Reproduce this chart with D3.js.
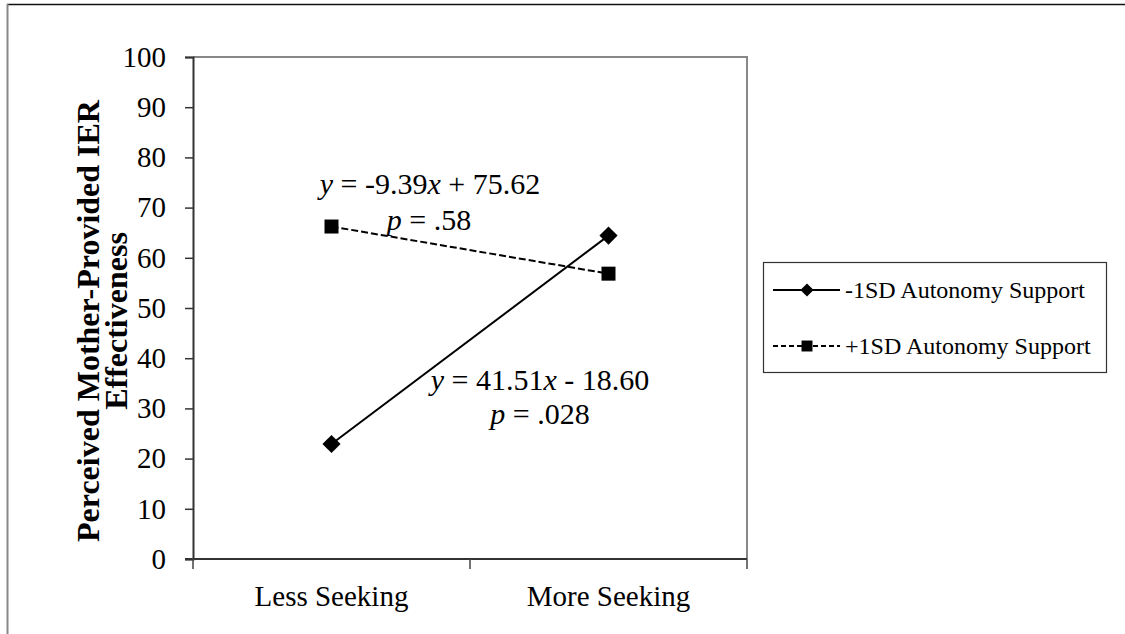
<!DOCTYPE html>
<html>
<head>
<meta charset="utf-8">
<script src="https://cdn.jsdelivr.net/npm/d3@7"></script>
<style>
    body { margin: 0; background: #fff; }
</style>
</head>
<body>
<div id="chart"></div>
<script>
// values
const categories = ['Less Seeking', 'More Seeking'];
const lowSupport = [22.91, 64.42];   // -1SD Autonomy Support
const highSupport = [66.23, 56.84];  // +1SD Autonomy Support
const yTicks = [0, 10, 20, 30, 40, 50, 60, 70, 80, 90, 100];
const seriesNames = ['-1SD Autonomy Support', '+1SD Autonomy Support'];
const yTitle = ['Perceived Mother-Provided IER', 'Effectiveness'];

const serif = '"Liberation Serif", "Times New Roman", serif';

let width = 1125,
    height = 634,
    plot = { left: 193, right: 747, top: 57, bottom: 559 };

let svg = d3.select('#chart').append('svg')
    .attr('width', width)
    .attr('height', height)
    .style('font-family', serif);

// outer frame (top + left edges only visible)
svg.append('line')
    .attr('x1', 7).attr('x2', width).attr('y1', 4.5).attr('y2', 4.5)
    .attr('stroke', '#111').attr('stroke-width', 1.5);
svg.append('line')
    .attr('x1', 7.5).attr('x2', 7.5).attr('y1', 4).attr('y2', height)
    .attr('stroke', '#888').attr('stroke-width', 2);

let x = d3.scaleBand()
    .domain(categories)
    .range([plot.left, plot.right])
    .padding(0);

let y = d3.scaleLinear()
    .domain([0, 100])
    .range([plot.bottom, plot.top]);

// plot area border (top/right grey)
svg.append('path')
    .attr('d', 'M' + plot.left + ',' + plot.top + 'H' + plot.right + 'V' + plot.bottom)
    .attr('fill', 'none')
    .attr('stroke', '#888')
    .attr('stroke-width', 2);

// y axis
let yAxis = svg.append('g')
    .attr('transform', 'translate(' + plot.left + ',0)')
    .call(d3.axisLeft(y).tickValues(yTicks).tickSize(8).tickPadding(19));
yAxis.attr('font-family', null).attr('font-size', null);
yAxis.select('.domain').attr('stroke', '#333').attr('stroke-width', 2);
yAxis.selectAll('.tick line').attr('stroke', '#333').attr('stroke-width', 1.5);
yAxis.selectAll('.tick text')
    .style('font-family', serif)
    .style('font-size', '29px')
    .attr('fill', '#000');

// x axis with ticks at category boundaries
let xg = svg.append('g');
xg.append('line')
    .attr('x1', plot.left - 8).attr('x2', plot.right)
    .attr('y1', plot.bottom).attr('y2', plot.bottom)
    .attr('stroke', '#333').attr('stroke-width', 2);
let bounds = categories.map(function(c) { return x(c); }).concat([x(categories[categories.length - 1]) + x.bandwidth()]);
xg.selectAll('.xtick')
    .data(bounds)
    .enter().append('line')
    .attr('x1', function(d) { return d; })
    .attr('x2', function(d) { return d; })
    .attr('y1', plot.bottom)
    .attr('y2', plot.bottom + 10)
    .attr('stroke', '#444').attr('stroke-width', 1.5);
xg.selectAll('.xlab')
    .data(categories)
    .enter().append('text')
    .attr('x', function(d) { return x(d) + x.bandwidth() / 2; })
    .attr('y', 606)
    .attr('text-anchor', 'middle')
    .style('font-family', serif)
    .style('font-size', '29px')
    .text(function(d) { return d; });

// y title
let yt = svg.append('text')
    .attr('transform', 'translate(99,321) rotate(-90)')
    .attr('text-anchor', 'middle')
    .style('font-family', serif)
    .style('font-size', '32px')
    .style('font-weight', 'bold');
yt.selectAll('tspan')
    .data(yTitle)
    .enter().append('tspan')
    .attr('x', 0)
    .attr('dy', function(d, i) { return i === 0 ? 0 : 28; })
    .text(function(d) { return d; });

let cx = function(d, i) { return x(categories[i]) + x.bandwidth() / 2; };

let line = d3.line()
    .x(function(d, i) { return cx(d, i); })
    .y(function(d) { return y(d); });

// +1SD dashed
svg.append('path')
    .datum(highSupport)
    .attr('d', line)
    .attr('fill', 'none')
    .attr('stroke', '#000')
    .attr('stroke-width', 2)
    .attr('stroke-dasharray', '7,3');

// -1SD solid
svg.append('path')
    .datum(lowSupport)
    .attr('d', line)
    .attr('fill', 'none')
    .attr('stroke', '#000')
    .attr('stroke-width', 2);

let diamond = d3.symbol().type(d3.symbolDiamond2).size(210);
let square = d3.symbol().type(d3.symbolSquare).size(196);

svg.selectAll('.sq')
    .data(highSupport)
    .enter().append('path')
    .attr('d', square)
    .attr('transform', function(d, i) { return 'translate(' + cx(d, i) + ',' + y(d) + ')'; })
    .attr('fill', '#000');

svg.selectAll('.dm')
    .data(lowSupport)
    .enter().append('path')
    .attr('d', diamond)
    .attr('transform', function(d, i) { return 'translate(' + cx(d, i) + ',' + y(d) + ')'; })
    .attr('fill', '#000');

// regression annotations
function annot(parts, ax, ay) {
    let t = svg.append('text')
        .attr('x', ax).attr('y', ay)
        .attr('text-anchor', 'middle')
        .style('font-family', serif)
        .style('font-size', '30px');
    parts.forEach(function(p) {
        t.append('tspan')
            .style('font-style', p[1] ? 'italic' : 'normal')
            .text(p[0]);
    });
}
annot([['y', 1], [' = -9.39', 0], ['x', 1], [' + 75.62', 0]], 430, 194);
annot([['p', 1], [' = .58', 0]], 429, 230);
annot([['y', 1], [' = 41.51', 0], ['x', 1], [' - 18.60', 0]], 540, 390);
annot([['p', 1], [' = .028', 0]], 540, 424);

// legend
let lg = svg.append('g');
lg.append('rect')
    .attr('x', 763.5).attr('y', 262.5)
    .attr('width', 343).attr('height', 110)
    .attr('fill', '#fff')
    .attr('stroke', '#333').attr('stroke-width', 1.2);

let legendRows = [
    { name: seriesNames[0], dash: null, sq: false },
    { name: seriesNames[1], dash: '5,3', sq: true }
];
let row = lg.selectAll('.lrow')
    .data(legendRows)
    .enter().append('g')
    .attr('transform', function(d, i) { return 'translate(0,' + (290 + i * 56) + ')'; });
row.append('line')
    .attr('x1', 773).attr('x2', 840)
    .attr('stroke', '#000').attr('stroke-width', 2)
    .attr('stroke-dasharray', function(d) { return d.dash; });
row.append('path')
    .attr('d', function(d) { return d.sq ? d3.symbol().type(d3.symbolSquare).size(120)() : d3.symbol().type(d3.symbolDiamond2).size(110)(); })
    .attr('transform', 'translate(807,0)')
    .attr('fill', '#000');
row.append('text')
    .attr('x', 845)
    .attr('y', 8)
    .style('font-family', serif)
    .style('font-size', '24px')
    .text(function(d) { return d.name; });
</script>
</body>
</html>
